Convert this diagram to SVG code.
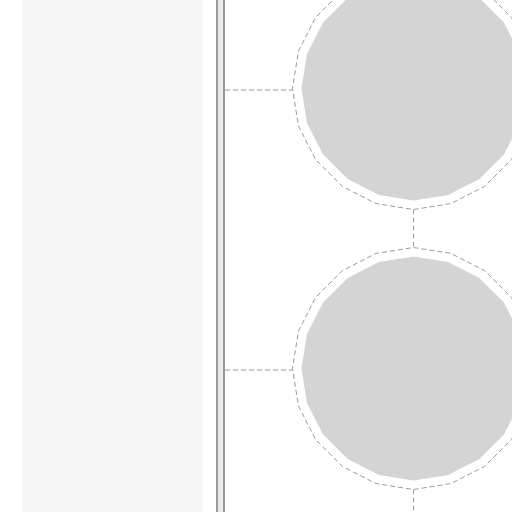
<svg xmlns="http://www.w3.org/2000/svg" xmlns:xlink="http://www.w3.org/1999/xlink" width="512" height="512" viewBox="0 0 512 512">
<style>
.dash{fill:none;stroke:#9a9a9a;stroke-width:1;stroke-dasharray:5 3}
.fill{fill:#d4d4d4;stroke:none}
</style>
<defs>
<polygon id="outer" points="121,0 115.08,37.39 97.89,71.12 71.12,97.89 37.39,115.08 0,121 -37.39,115.08 -71.12,97.89 -97.89,71.12 -115.08,37.39 -121,0 -115.08,-37.39 -97.89,-71.12 -71.12,-97.89 -37.39,-115.08 0,-121 37.39,-115.08 71.12,-97.89 97.89,-71.12 115.08,-37.39"/>
<polygon id="inner" points="112,0 106.52,34.61 90.61,65.83 65.83,90.61 34.61,106.52 0,112 -34.61,106.52 -65.83,90.61 -90.61,65.83 -106.52,34.61 -112,0 -106.52,-34.61 -90.61,-65.83 -65.83,-90.61 -34.61,-106.52 0,-112 34.61,-106.52 65.83,-90.61 90.61,-65.83 106.52,-34.61"/>
</defs>
<rect width="512" height="512" fill="#ffffff"/>
<rect id="panel" x="22" y="0" width="181" height="512" fill="#f7f7f7"/>
<rect id="bar" x="217" y="-2" width="7" height="516" fill="#ebebe5" stroke="#9a9a9a" stroke-width="2"/>
<g id="connectors">
<line class="dash" x1="225" y1="90" x2="292.5" y2="90"/>
<line class="dash" x1="225" y1="370" x2="292.5" y2="370"/>
<line class="dash" x1="413.5" y1="209.5" x2="413.5" y2="247.5"/>
<line class="dash" x1="413.5" y1="489.5" x2="413.5" y2="512"/>
</g>
<g id="node1" transform="translate(413.5,88.5)">
<use xlink:href="#inner" class="fill"/>
<use xlink:href="#outer" class="dash"/>
</g>
<g id="node2" transform="translate(413.5,368.5)">
<use xlink:href="#inner" class="fill"/>
<use xlink:href="#outer" class="dash"/>
</g>
</svg>
